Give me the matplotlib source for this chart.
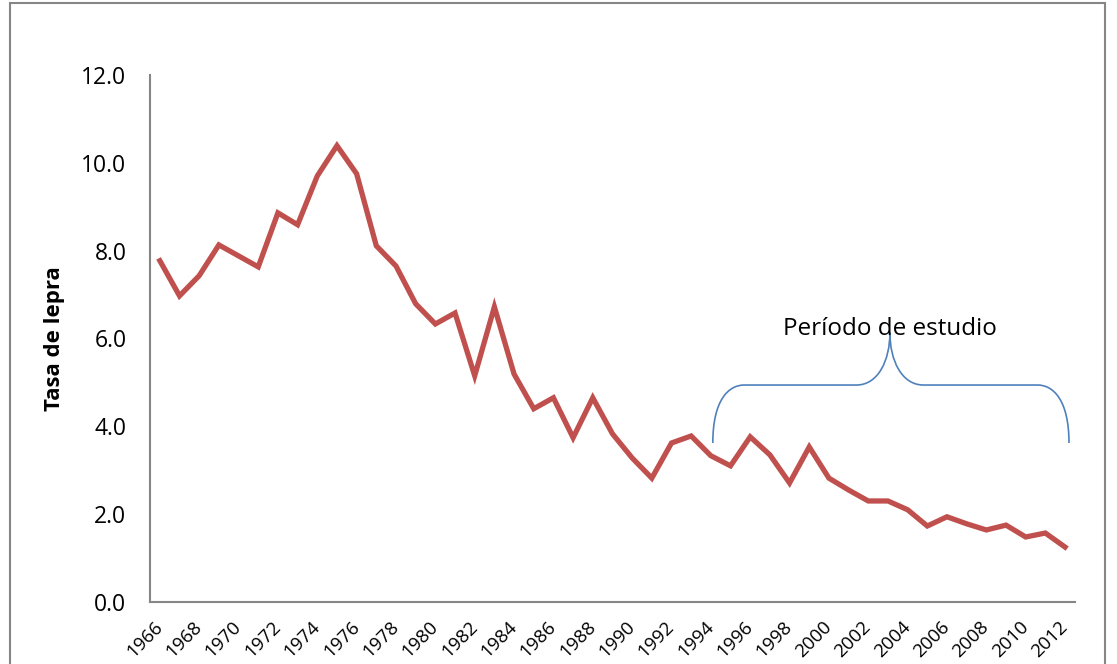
import matplotlib
matplotlib.use("Agg")
import matplotlib.pyplot as plt
from matplotlib.patches import Rectangle, PathPatch
from matplotlib.path import Path

years = list(range(1966, 2013))
rates = [7.77, 6.97, 7.43, 8.13, 7.88, 7.63, 8.86, 8.59, 9.70, 10.39,
         9.75, 8.11, 7.65, 6.79, 6.33, 6.58, 5.15, 6.72, 5.19, 4.40,
         4.65, 3.74, 4.65, 3.83, 3.28, 2.82, 3.62, 3.78, 3.33, 3.10,
         3.76, 3.35, 2.71, 3.53, 2.82, 2.55, 2.30, 2.30, 2.10, 1.73,
         1.94, 1.78, 1.64, 1.75, 1.48, 1.57, 1.25]
tick_years = years[::2]
y_ticks = [0, 2, 4, 6, 8, 10, 12]

plt.rcParams["font.family"] = ["Open Sans", "DejaVu Sans"]

fig = plt.figure(figsize=(11.17, 6.64), dpi=100)
ax = fig.add_axes([0.1343, 0.0934, 0.828, 0.7937])

ax.plot(years, rates, color="#C0504D", linewidth=3.8, solid_joinstyle="miter")

ax.set_xlim(1965.5, 2012.5)
ax.set_ylim(0, 12)
ax.set_yticks(y_ticks)
ax.set_yticklabels([f"{v:.1f}" for v in y_ticks], fontsize=16.5)
ax.set_xticks(tick_years)
ax.set_xticklabels([str(y) for y in tick_years], rotation=45, ha="right",
                   va="center", rotation_mode="anchor", fontsize=13.5)
ax.tick_params(axis="both", length=0)
ax.tick_params(axis="y", pad=17)
ax.tick_params(axis="x", pad=16)
for side in ("top", "right"):
    ax.spines[side].set_visible(False)
for side in ("left", "bottom"):
    ax.spines[side].set_color("#868686")
    ax.spines[side].set_linewidth(1.5)

ax.set_ylabel("Tasa de lepra", fontsize=16, fontweight="bold", labelpad=12)

# brace marking the study period
x0, x1, xm = 1994.1, 2012.2, 2003.1
yb, yh, yt = 3.62, 4.94, 6.13
verts = [
    (x0, yb), (x0, 4.6), (x0 + 0.8, yh), (x0 + 1.6, yh),
    (xm - 1.7, yh),
    (xm - 0.6, yh), (xm, 5.5), (xm, yt),
    (xm, 5.5), (xm + 0.6, yh), (xm + 1.7, yh),
    (x1 - 1.6, yh),
    (x1 - 0.8, yh), (x1, 4.6), (x1, yb),
]
codes = [Path.MOVETO, Path.CURVE4, Path.CURVE4, Path.CURVE4,
         Path.LINETO,
         Path.CURVE4, Path.CURVE4, Path.CURVE4,
         Path.CURVE4, Path.CURVE4, Path.CURVE4,
         Path.LINETO,
         Path.CURVE4, Path.CURVE4, Path.CURVE4]
ax.add_patch(PathPatch(Path(verts, codes), facecolor="none",
                       edgecolor="#4F81BD", linewidth=1.2))
ax.text(xm, 6.08, "Período de estudio", ha="center", va="baseline", fontsize=17.5)

fig.patches.append(Rectangle((0.009, -0.1), 0.98, 1.095, transform=fig.transFigure,
                             fill=False, edgecolor="#868686", linewidth=1.5))

fig.savefig("out.png", dpi=100)
